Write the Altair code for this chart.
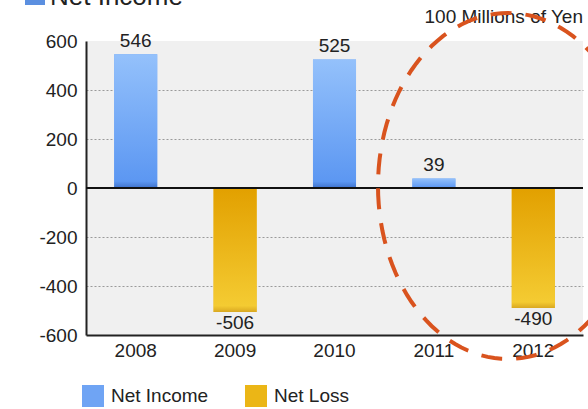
import altair as alt
import numpy as np
import pandas as pd

years = ["2008", "2009", "2010", "2011", "2012"]
values = [546, -506, 525, 39, -490]
series = ["Net Income", "Net Loss", "Net Income", "Net Income", "Net Loss"]
legend_names = ["Net Income", "Net Loss"]
legend_colors = ["#6fa4f4", "#ebb616"]
y_ticks = [-600, -400, -200, 0, 200, 400, 600]
unit_text = "100 Millions of Yen"
title_text = "Net Income"

df = pd.DataFrame({"year": years, "value": values, "series": series})
one = pd.DataFrame({"k": [0]})

FONT = "Liberation Sans"

x_enc = alt.X(
    "year:N",
    sort=years,
    title=None,
    scale=alt.Scale(paddingInner=0.567, paddingOuter=0.2835),
    axis=alt.Axis(
        labelAngle=0, ticks=False, domain=True, domainColor="#222", domainWidth=2,
        labelFontSize=19, labelColor="#222", labelPadding=6, labelFont=FONT,
    ),
)
y_enc = alt.Y(
    "value:Q",
    title=None,
    scale=alt.Scale(domain=[-600, 600], nice=False, zero=True),
    axis=alt.Axis(
        values=y_ticks, ticks=False, domain=True, domainColor="#222", domainWidth=2,
        labelFontSize=19, labelColor="#222", labelPadding=9, labelFont=FONT,
        labelExpr="toString(datum.value)",
        grid=True, gridDash=[2, 2], gridColor="#9a9a9a", gridWidth=1,
        gridOpacity={"condition": {"test": "datum.value == 600 || datum.value == -600 || datum.value == 0", "value": 0}, "value": 1},
    ),
)

base = alt.Chart(df).transform_calculate(label="toString(datum.value)")

bars = base.mark_bar().encode(
    x=x_enc,
    y=y_enc,
    color=alt.Color(
        "series:N",
        scale=alt.Scale(domain=legend_names, range=legend_colors),
        legend=alt.Legend(
            title=None, orient="none", legendX=-4, legendY=344, direction="horizontal",
            columns=2, symbolType="square", symbolSize=484, symbolStrokeWidth=0,
            symbolOpacity=1, labelFontSize=19, labelColor="#222", labelFont=FONT,
            labelOffset=7, columnPadding=36, padding=0,
        ),
    ),
)

blue_grad = alt.Gradient(
    gradient="linear",
    stops=[
        alt.GradientStop(color="#94c1fb", offset=0),
        alt.GradientStop(color="#5c97f2", offset=0.95),
        alt.GradientStop(color="#3f72cc", offset=1),
    ],
    x1=0, x2=0, y1=0, y2=1,
)
gold_grad = alt.Gradient(
    gradient="linear",
    stops=[
        alt.GradientStop(color="#e2a000", offset=0),
        alt.GradientStop(color="#f4cb32", offset=0.95),
        alt.GradientStop(color="#d9a821", offset=1),
    ],
    x1=0, x2=0, y1=0, y2=1,
)

blue_bars = base.transform_filter("datum.value > 0").mark_bar(fill=blue_grad).encode(x=x_enc, y=y_enc)
gold_bars = base.transform_filter("datum.value < 0").mark_bar(fill=gold_grad).encode(x=x_enc, y=y_enc)

pos_text = base.transform_filter("datum.value > 0").mark_text(
    baseline="bottom", dy=-3, fontSize=19, font=FONT, color="#222"
).encode(x=x_enc, y=y_enc, text="label:N")
neg_text = base.transform_filter("datum.value < 0").mark_text(
    baseline="top", dy=2, fontSize=19, font=FONT, color="#222"
).encode(x=x_enc, y=y_enc, text="label:N")

zero_rule = alt.Chart(one).mark_rule(color="#111", strokeWidth=2).encode(y=alt.datum(0))

unit = alt.Chart(one).mark_text(
    text=unit_text, align="right", baseline="middle", fontSize=19, font=FONT, color="#222"
).encode(x=alt.value(497), y=alt.value(-24))

title_swatch = alt.Chart(one).mark_rect(color="#5b8fe0").encode(
    x=alt.value(-61), x2=alt.value(-41), y=alt.value(-52), y2=alt.value(-36)
)
title_mark = alt.Chart(one).mark_text(
    text=title_text, align="left", baseline="alphabetic", fontSize=26, font=FONT, color="#222"
).encode(x=alt.value(-36), y=alt.value(-36))

# dashed elliptical annotation
rx, ry = 130.0, 173.0
t = np.linspace(0, 2 * np.pi, 121)[:-1]
pts = [(np.cos(a), (ry / rx) * np.sin(a)) for a in t]
path = "M" + " L".join(f"{px:.4f},{py:.4f}" for px, py in pts) + " Z"
ellipse = alt.Chart(one).mark_point(
    shape=path, filled=False, stroke="#d9531e", strokeWidth=4, strokeDash=[21, 14],
    opacity=1, size=(2 * rx) ** 2,
).encode(x=alt.value(422), y=alt.value(145))

chart = alt.layer(
    bars, blue_bars, gold_bars, zero_rule, pos_text, neg_text, unit, title_swatch, title_mark, ellipse
).properties(
    width=497,
    height=294,
    padding={"left": 86, "top": 41, "right": 5, "bottom": 74},
    autosize=alt.AutoSizeParams(type="none"),
    background="white",
).configure_view(fill="#f0f0f0", stroke=None)

chart.save("out.html", embed_options={"renderer": "svg", "actions": False})
